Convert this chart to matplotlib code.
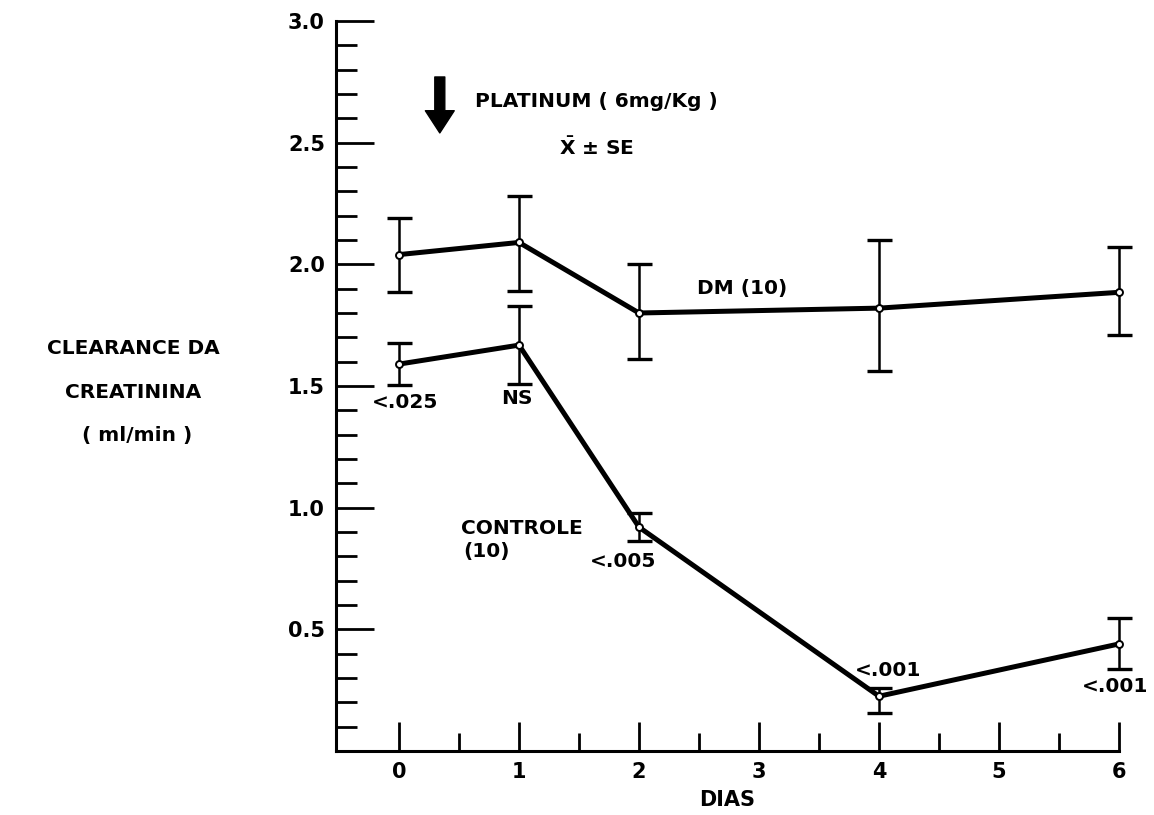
import matplotlib
matplotlib.use("Agg")
import matplotlib.pyplot as plt
from matplotlib.ticker import MultipleLocator, FixedLocator

plt.rcParams['font.family'] = ['DejaVu Sans']
plt.rcParams['font.weight'] = 'bold'

# ---- data ----
days = [0, 1, 2, 4, 6]
dm_mean = [2.04, 2.09, 1.80, 1.82, 1.885]
dm_hi = [2.19, 2.28, 2.00, 2.10, 2.07]
dm_lo = [1.885, 1.89, 1.61, 1.56, 1.71]
ct_mean = [1.59, 1.668, 0.92, 0.225, 0.44]
ct_hi = [1.676, 1.83, 0.98, 0.26, 0.545]
ct_lo = [1.504, 1.51, 0.865, 0.155, 0.335]
p_labels = ['<.025', 'NS', '<.005', '<.001', '<.001']
x_ticks = [0, 1, 2, 3, 4, 5, 6]
y_ticks = [0.5, 1.0, 1.5, 2.0, 2.5, 3.0]
y_ticklabels = ['0.5', '1.0', '1.5', '2.0', '2.5', '3.0']

FS = 14.5

fig = plt.figure(figsize=(11.54, 8.15), dpi=100)
ax = fig.add_axes([336/1154, 1-751/815, (1119-336)/1154, (751-21)/815])

def draw(mean, lo, hi):
    yerr = [[m - l for m, l in zip(mean, lo)], [h - m for m, h in zip(mean, hi)]]
    cont = ax.errorbar(days, mean, yerr=yerr, fmt='none', ecolor='black', elinewidth=1.8,
                       capsize=9, capthick=2.4, zorder=2)
    for child in cont.get_children():
        child.set_clip_on(False)
    ax.plot(days, mean, color='black', lw=3.6, zorder=3, solid_capstyle='round', clip_on=False)
    ax.plot(days, mean, 'o', ms=5, mfc='white', mec='black', mew=1.4, zorder=4, clip_on=False)

draw(dm_mean, dm_lo, dm_hi)
draw(ct_mean, ct_lo, ct_hi)

ax.set_xlim(-0.525, 6.0)
ax.set_ylim(0, 3.0)
for s in ['top', 'right']:
    ax.spines[s].set_visible(False)
for s in ['left', 'bottom']:
    ax.spines[s].set_linewidth(2.2)

ax.xaxis.set_major_locator(FixedLocator(x_ticks))
ax.xaxis.set_minor_locator(FixedLocator([0.5, 1.5, 2.5, 3.5, 4.5, 5.5]))
ax.yaxis.set_major_locator(FixedLocator(y_ticks))
ax.yaxis.set_minor_locator(MultipleLocator(0.1))
ax.set_yticklabels(y_ticklabels)
ax.set_xticklabels([str(t) for t in x_ticks])
ax.tick_params(axis='x', which='major', direction='in', length=21, width=2, labelsize=15, pad=8)
ax.tick_params(axis='x', which='minor', direction='in', length=13, width=2)
ax.tick_params(axis='y', which='major', direction='in', length=27, width=2, labelsize=15, pad=8)
ax.tick_params(axis='y', which='minor', direction='in', length=15, width=2)
for lab in ax.get_xticklabels() + ax.get_yticklabels():
    lab.set_fontweight('bold')

ax.set_xlabel('DIAS', fontsize=15, fontweight='bold', labelpad=6)

# p-value labels
p_pos = [(0.05, 1.434), (0.98, 1.447), (1.87, 0.779), (4.075, 0.332), (5.97, 0.266)]
for (px, py), t in zip(p_pos, p_labels):
    ax.text(px, py, t, ha='center', va='center', fontsize=FS, fontweight='bold')

ax.text(2.86, 1.90, 'DM (10)', ha='center', va='center', fontsize=FS, fontweight='bold')
ax.text(1.02, 0.914, 'CONTROLE', ha='center', va='center', fontsize=FS, fontweight='bold')
ax.text(0.73, 0.82, '(10)', ha='center', va='center', fontsize=FS, fontweight='bold')

# arrow and header
ax.annotate('', xy=(0.34, 2.54), xytext=(0.34, 2.77),
            arrowprops=dict(arrowstyle='simple,head_width=1.3,head_length=1.0,tail_width=0.45',
                            color='black', mutation_scale=16, shrinkA=0, shrinkB=0))
ax.text(0.633, 2.668, 'PLATINUM ( 6mg/Kg )', ha='left', va='center', fontsize=FS, fontweight='bold')
ax.text(1.65, 2.48, r'$\mathbf{\bar{X}}$ ± SE', ha='center', va='center', fontsize=FS, fontweight='bold')

fig.text(133/1154, 1-348/815, 'CLEARANCE DA', ha='center', va='center', fontsize=FS, fontweight='bold')
fig.text(133/1154, 1-393/815, 'CREATININA', ha='center', va='center', fontsize=FS, fontweight='bold')
fig.text(137/1154, 1-436/815, '( ml/min )', ha='center', va='center', fontsize=FS, fontweight='bold')

fig.savefig('out.png', dpi=100)
